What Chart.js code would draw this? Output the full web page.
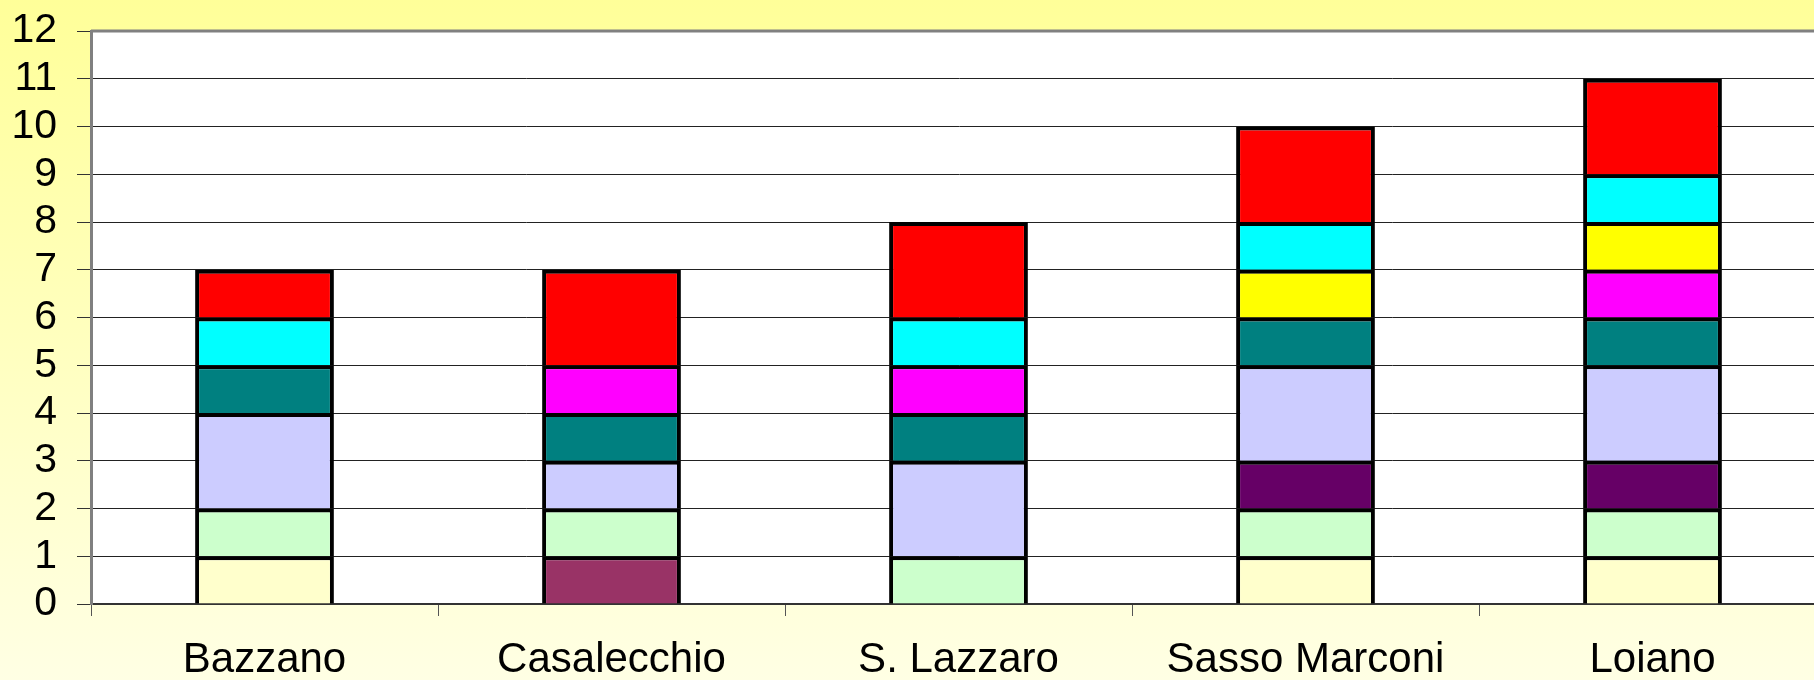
<!DOCTYPE html>
<html>
<head>
<meta charset="utf-8">
<title>Comuni</title>
<script src="https://cdn.jsdelivr.net/npm/chart.js@4/dist/chart.umd.min.js"></script>
<style>
  html, body { margin: 0; padding: 0; overflow: hidden; background: #ffffe0; }
  #wrap { position: relative; width: 1826px; height: 680px; }
</style>
</head>
<body>
<div id="wrap"><canvas id="bar-chart"></canvas></div>
<script>
// Categories
const comuni = ['Bazzano', 'Casalecchio', 'S. Lazzaro', 'Sasso Marconi', 'Loiano'];

// Series values, stacked from bottom to top
const serieGialloChiaro = [1, 0, 0, 1, 1];
const serieBordeaux     = [0, 1, 0, 0, 0];
const serieVerdeChiaro  = [1, 1, 1, 1, 1];
const seriePrugna       = [0, 0, 0, 1, 1];
const serieLavanda      = [2, 1, 2, 2, 2];
const serieTeal         = [1, 1, 1, 1, 1];
const serieMagenta      = [0, 1, 1, 0, 1];
const serieGiallo       = [0, 0, 0, 1, 1];
const serieCiano        = [1, 0, 1, 1, 1];
const serieRosso        = [1, 2, 2, 2, 2];

// Y axis ticks
const yMin = 0;
const yMax = 12;
const yStep = 1;

// Series colors
const SERIES = [
  { data: serieGialloChiaro, color: '#FFFFCC' },
  { data: serieBordeaux,     color: '#993366' },
  { data: serieVerdeChiaro,  color: '#CCFFCC' },
  { data: seriePrugna,       color: '#660066' },
  { data: serieLavanda,      color: '#CCCCFF' },
  { data: serieTeal,         color: '#008080' },
  { data: serieMagenta,      color: '#FF00FF' },
  { data: serieGiallo,       color: '#FFFF00' },
  { data: serieCiano,        color: '#00FFFF' },
  { data: serieRosso,        color: '#FF0000' }
];

// Page background gradient + white plot area
const backgroundPlugin = {
  id: 'background',
  beforeDraw(chart) {
    const ctx = chart.ctx;
    const area = chart.chartArea;
    ctx.save();
    const grad = ctx.createLinearGradient(0, 0, 0, chart.height);
    grad.addColorStop(0, '#FFFF99');
    grad.addColorStop(1, '#FFFFE4');
    ctx.fillStyle = grad;
    ctx.fillRect(0, 0, chart.width, chart.height);
    ctx.fillStyle = '#FFFFFF';
    ctx.fillRect(area.left, area.top, area.right - area.left, area.bottom - area.top);
    ctx.restore();
  },
  afterDatasetsDraw(chart) {
    // gray frame on top of plot area
    const ctx = chart.ctx;
    const area = chart.chartArea;
    ctx.save();
    ctx.strokeStyle = '#808080';
    ctx.lineWidth = 3;
    ctx.beginPath();
    ctx.moveTo(area.left, area.top);
    ctx.lineTo(area.right, area.top);
    ctx.stroke();
    ctx.restore();
  }
};

document.addEventListener('DOMContentLoaded', function() {
  Chart.defaults.font.family = 'Arial, "Liberation Sans", sans-serif';
  Chart.defaults.color = '#000000';

  const datasets = SERIES.map(s => ({
    data: s.data,
    backgroundColor: s.color,
    borderColor: '#000000',
    borderWidth: 4,
    barPercentage: 0.4,
    categoryPercentage: 1.0
  }));

  new Chart(document.getElementById('bar-chart'), {
    type: 'bar',
    data: {
      labels: comuni,
      datasets: datasets
    },
    options: {
      responsive: true,
      maintainAspectRatio: false,
      animation: false,
      layout: {
        padding: { top: 31, left: 0, right: 0, bottom: 0 }
      },
      plugins: {
        legend: { display: false },
        tooltip: { enabled: false }
      },
      scales: {
        x: {
          stacked: true,
          grid: {
            offset: true,
            drawOnChartArea: false,
            drawTicks: true,
            tickLength: 12,
            tickColor: '#555555'
          },
          border: { color: '#333333', width: 2 },
          ticks: {
            padding: 19,
            maxRotation: 0,
            font: { size: 42 }
          },
          afterFit: function(scale) {
            scale.height = 76;
          }
        },
        y: {
          stacked: true,
          min: yMin,
          max: yMax,
          grid: {
            color: '#222222',
            lineWidth: 1,
            tickLength: 14,
            tickColor: '#333333'
          },
          border: { color: '#808080', width: 3 },
          ticks: {
            stepSize: yStep,
            autoSkip: false,
            padding: 20,
            font: { size: 41 }
          },
          afterFit: function(scale) {
            scale.width = 91;
            scale.paddingTop = 0;
            scale.paddingBottom = 0;
          }
        }
      }
    },
    plugins: [backgroundPlugin]
  });
});
</script>
</body>
</html>
